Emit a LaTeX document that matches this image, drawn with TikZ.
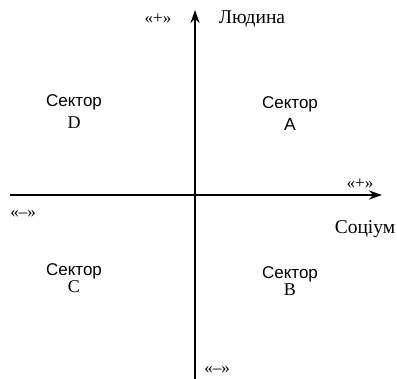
\documentclass[tikz,border=0pt]{standalone}
\usepackage{fontspec}
\setmainfont{Liberation Serif}
\newfontfamily\secfont{Liberation Sans}
\usetikzlibrary{arrows.meta}
\tikzset{
  axis/.style={line width=2pt, -{Stealth[length=13pt,width=9pt]}},
  lab/.style={font=\fontsize{19.5}{20}\selectfont, inner sep=0pt},
  sign/.style={font=\fontsize{17}{20}\selectfont, inner sep=0pt},
  sector/.style={align=center, inner sep=0pt, anchor=north},
}
\begin{document}
\begin{tikzpicture}[x=1pt,y=-1pt]
\useasboundingbox (0,0) rectangle (397,379);
\coordinate (xs) at (10,195);
\coordinate (xe) at (382,195);
\coordinate (ys) at (195,379);
\coordinate (ye) at (195,10);
\draw[axis] (xs) -- (xe);
\draw[axis] (ys) -- (ye);
\node[sign] (pt) at (158,19) {«+»};
\node[lab] (hum) at (252,19) {Людина};
\node[sign] (pr) at (360,184) {«+»};
\node[lab] (soc) at (365,229) {Соціум};
\node[sign] (ml) at (23,214) {«–»};
\node[sign] (mb) at (217,370) {«–»};
\node[sector] (d) at (74,94) {{\secfont\fontsize{17}{18}\selectfont Сектор}\\[6pt]{\fontsize{18}{18}\selectfont D}};
\node[sector] (a) at (290,96) {{\secfont\fontsize{17}{18}\selectfont Сектор}\\[6pt]{\secfont\fontsize{17.5}{18}\selectfont A}};
\node[sector] (c) at (74,263) {{\secfont\fontsize{17}{18}\selectfont Сектор}\\[1pt]{\fontsize{18}{18}\selectfont C}};
\node[sector] (b) at (290,266) {{\secfont\fontsize{17}{18}\selectfont Сектор}\\[1pt]{\fontsize{18}{18}\selectfont B}};
\end{tikzpicture}
\end{document}
